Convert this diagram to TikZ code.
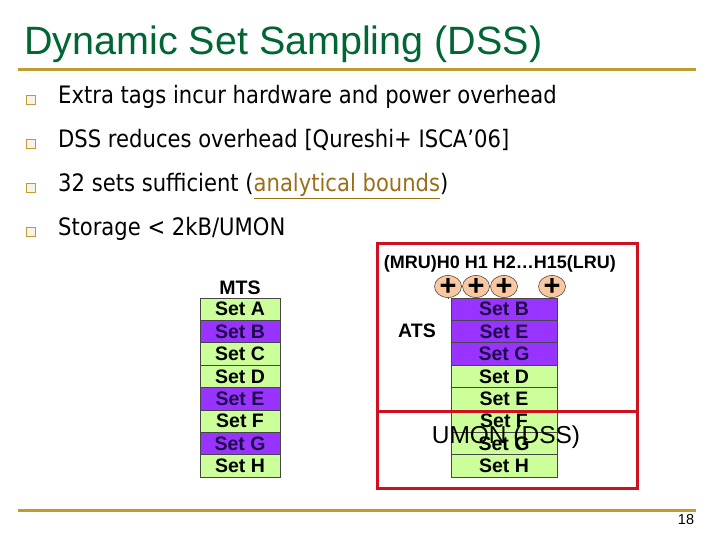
\documentclass[tikz,border=0pt]{standalone}
\usepackage{fontspec}
\setmainfont{Liberation Sans}
\newfontfamily\bodyfont[FakeStretch=0.88]{DejaVu Sans}
\newfontfamily\diagfont{Liberation Sans}
\usetikzlibrary{positioning,shapes.geometric}
\definecolor{titleGreen}{RGB}{0, 102, 51}
\definecolor{ruleGold}{RGB}{192, 155, 50}
\definecolor{linkGold}{RGB}{153, 111, 26}
\definecolor{setGreen}{RGB}{204, 255, 153}
\definecolor{setPurple}{RGB}{153, 51, 255}
\definecolor{purpleInk}{RGB}{30, 12, 70}
\definecolor{cellEdge}{RGB}{70, 70, 70}
\definecolor{hitPeach}{RGB}{250, 200, 160}
\definecolor{frameRed}{RGB}{206, 16, 32}

\tikzset{
  goldRule/.style={draw=ruleGold, line width=3pt},
  bulletBox/.style={draw=ruleGold, fill=ruleGold!12, line width=1.3pt, minimum size=8.5pt, inner sep=0pt},
  bulletText/.style={anchor=base west, inner sep=0pt, font=\bodyfont\fontsize{24}{28}\selectfont},
  plainCell/.style={draw=cellEdge, fill=setGreen, line width=0.6pt, inner sep=0pt,
    minimum height=22.375pt, font=\diagfont\fontsize{19.5}{20}\selectfont\bfseries},
  hitCell/.style={plainCell, fill=setPurple, text=purpleInk},
  colLabel/.style={font=\diagfont\fontsize{19.5}{20}\selectfont\bfseries, inner sep=0pt},
  hitCircle/.style={ellipse, draw=black!70, fill=hitPeach, line width=0.6pt, minimum width=27pt, minimum height=22pt, inner sep=0pt},
  plusMark/.style={font=\fontsize{29}{30}\selectfont\bfseries, inner sep=0pt},
  redFrame/.style={draw=frameRed, line width=3pt}
}

\begin{document}
\begin{tikzpicture}[x=1pt, y=-1pt]
  \fill[white] (0,0) rectangle (720,540);
  \useasboundingbox (0,0) rectangle (720,540);

  % title and rules
  \node[anchor=base west, inner sep=0pt, text=titleGreen, font=\fontsize{39.5}{42}\selectfont] (title) at (24,55) {Dynamic Set Sampling (DSS)};
  \draw[goldRule] (18,70) -- (696,70);
  \draw[goldRule] (18,510) -- (696,510);
  \node[font=\fontsize{14.5}{16}\selectfont, inner sep=0pt] (pageNo) at (686,520) {18};

  % bullets
  \foreach \txt [count=\i] in {Extra tags incur hardware and power overhead,
      DSS reduces overhead [Qureshi+ ISCA’06],
      32 sets sufficient ({\color{linkGold}\underline{analytical bounds}}),
      Storage < 2kB/UMON} {
    \node[bulletBox] (box\i) at (31, {56+\i*44}) {};
    \node[bulletText] (item\i) at (58, {60+\i*44}) {\txt};
  }

  % main tag store
  \node[colLabel] (mts) at (240,288) {MTS};
  \foreach \lbl/\kind [count=\i] in {A/plainCell, B/hitCell, C/plainCell, D/plainCell,
      E/hitCell, F/plainCell, G/hitCell, H/plainCell}
    \node[\kind, minimum width=80pt] (mts\i) at (240, {298+(\i-0.5)*22.375}) {Set \lbl};

  % auxiliary tag store
  \node[colLabel, font=\diagfont\fontsize{18}{20}\selectfont\bfseries] (hdr) at (500,264) {(MRU)H0 H1 H2…H15(LRU)};
  \node[colLabel] (atsName) at (417,331) {ATS};
  \foreach \lbl/\kind [count=\i] in {B/hitCell, E/hitCell, G/hitCell, D/plainCell,
      E/plainCell, F/plainCell, G/plainCell, H/plainCell}
    \node[\kind, minimum width=106pt] (ats\i) at (504, {298+(\i-0.5)*22.375}) {Set \lbl};

  % hit counters
  \foreach \cx [count=\i from 0] in {448,476,504,552} {
    \node[hitCircle, label={[plusMark]center:+}] (h\i) at (\cx,286.5) {};
    \draw[black!70] (h\i.south) -- (h\i.south |- ats1.north);
  }

  % monitor frame
  \draw[redFrame] (377,243) rectangle (637,488);
  \draw[redFrame] (377,411) -- (637,411);
  \node[font=\fontsize{24.5}{26}\selectfont, inner sep=0pt] (umon) at (506,437) {UMON (DSS)};
\end{tikzpicture}
\end{document}
